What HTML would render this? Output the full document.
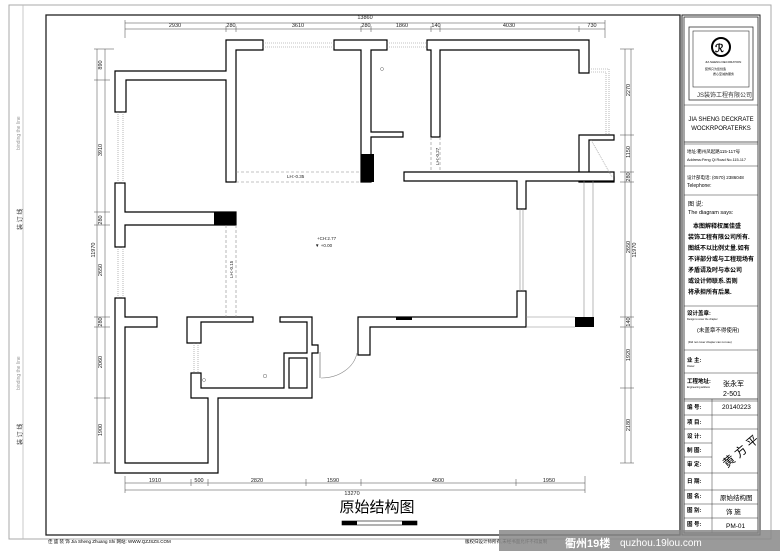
<!DOCTYPE html>
<html><head><meta charset="utf-8"><style>
html,body{margin:0;padding:0;background:#fff}
svg{display:block}
text{font-family:"Liberation Sans","Noto Sans CJK SC",sans-serif}
</style></head><body>
<svg width="780" height="551" viewBox="0 0 780 551" xmlns="http://www.w3.org/2000/svg">
<rect width="780" height="551" fill="#fff"/>
<rect x="9" y="5" width="762" height="534" fill="none" stroke="#aaa" stroke-width="1"/>
<line x1="23" y1="5" x2="23" y2="539" stroke="#bbb" stroke-width="0.8"/>
<text x="20" y="150" font-size="5" fill="#999" transform="rotate(-90 20 150)">binding the line</text>
<text x="20" y="390" font-size="5" fill="#999" transform="rotate(-90 20 390)">binding the line</text>
<text x="22" y="230" font-size="6" fill="#333" transform="rotate(-90 22 230)">装 订 线</text>
<text x="22" y="445" font-size="6" fill="#333" transform="rotate(-90 22 445)">装 订 线</text>
<rect x="46" y="15" width="634" height="520" fill="none" stroke="#222" stroke-width="1.3"/>
<!-- title block -->
<rect x="682" y="15" width="78" height="520" fill="none" stroke="#222" stroke-width="1"/>
<rect x="684" y="17" width="74" height="516" fill="none" stroke="#222" stroke-width="0.8"/>
<rect x="689" y="27" width="64" height="73" fill="none" stroke="#333" stroke-width="0.8"/>
<rect x="693" y="31" width="56" height="56" fill="none" stroke="#333" stroke-width="0.6"/>
<circle cx="721" cy="47" r="9" fill="none" stroke="#000" stroke-width="2"/>
<text x="715" y="52" font-size="11" font-weight="bold">ℛ</text>
<text x="705" y="63" font-size="3">JIA SHENG DECORATION</text>
<text x="705" y="70" font-size="3">装饰只为您创造</text>
<text x="713" y="75" font-size="3">质心至诚的服务</text>
<text x="697" y="97" font-size="6" fill="#333">JS装饰工程有限公司</text>
<line x1="684" y1="105" x2="758" y2="105" stroke="#333" stroke-width="0.6"/>
<text x="721" y="121" font-size="6" text-anchor="middle">JIA SHENG DECKRATE</text>
<text x="721" y="130" font-size="6" text-anchor="middle">WOCKRPORATERKS</text>
<line x1="684" y1="142" x2="758" y2="142" stroke="#333" stroke-width="0.8"/>
<line x1="684" y1="144" x2="758" y2="144" stroke="#333" stroke-width="0.5"/>
<text x="687" y="153" font-size="4.5">地址:衢州凤起路115-117号</text>
<text x="687" y="161" font-size="3.8">Address:Feng Qi Road No.115-117</text>
<line x1="684" y1="166" x2="758" y2="166" stroke="#333" stroke-width="0.5"/>
<text x="687" y="179" font-size="4.5">设计部电话: (0570) 2386048</text>
<text x="687" y="187" font-size="5">Telephone:</text>
<line x1="684" y1="195" x2="758" y2="195" stroke="#333" stroke-width="0.5"/>
<text x="688" y="206" font-size="6">图 说:</text>
<text x="688" y="214" font-size="5.5">The diagram says:</text>
<text x="693" y="228" font-size="6" font-weight="bold">本图解释权属佳盛</text>
<text x="688" y="239" font-size="6" font-weight="bold">装饰工程有限公司所有.</text>
<text x="688" y="250" font-size="6" font-weight="bold">图纸不以比例丈量.如有</text>
<text x="688" y="261" font-size="6" font-weight="bold">不详部分或与工程现场有</text>
<text x="688" y="272" font-size="6" font-weight="bold">矛盾请及时与本公司</text>
<text x="688" y="283" font-size="6" font-weight="bold">或设计师联系.否则</text>
<text x="688" y="294" font-size="6" font-weight="bold">将承担所有后果.</text>
<line x1="684" y1="306" x2="758" y2="306" stroke="#333" stroke-width="0.6"/>
<text x="687" y="315" font-size="5.5" font-weight="bold">设计盖章:</text>
<text x="687" y="320" font-size="2.5">Design to cover the chapter</text>
<text x="697" y="332" font-size="5.5">(未盖章不得使用)</text>
<text x="688" y="343" font-size="2.8">(Did not cover chapter can not use)</text>
<line x1="684" y1="350" x2="758" y2="350" stroke="#333" stroke-width="0.6"/>
<text x="687" y="362" font-size="5.5" font-weight="bold">业 主:</text>
<text x="687" y="367" font-size="2.5">Owner:</text>
<line x1="684" y1="373" x2="758" y2="373" stroke="#333" stroke-width="0.6"/>
<text x="687" y="383" font-size="5.5" font-weight="bold">工程地址:</text>
<text x="687" y="388" font-size="2.5">Engineering address</text>
<text x="723" y="386" font-size="7" font-family="Liberation Serif,Noto Serif CJK SC,serif">张永军</text>
<text x="723" y="396" font-size="7" font-family="Liberation Serif,serif">2-501</text>
<line x1="684" y1="399" x2="758" y2="399" stroke="#333" stroke-width="0.8"/>
<line x1="684" y1="401" x2="758" y2="401" stroke="#333" stroke-width="0.5"/>
<line x1="712" y1="399" x2="712" y2="533" stroke="#333" stroke-width="0.5"/>
<g font-size="5.5" font-weight="bold">
<text x="687" y="409">编 号:</text><text x="687" y="424">项 目:</text><text x="687" y="438">设 计:</text><text x="687" y="452">制 图:</text><text x="687" y="466">审 定:</text><text x="687" y="483">日 期:</text><text x="687" y="498">图 名:</text><text x="687" y="512">图 别:</text><text x="687" y="526">图 号:</text>
</g>
<text x="722" y="409" font-size="6.5" font-family="Liberation Serif,serif">20140223</text>
<text x="720" y="500" font-size="6.5" font-family="Liberation Serif,Noto Serif CJK SC,serif">原始结构图</text>
<text x="726" y="514" font-size="6.5" font-family="Liberation Serif,Noto Serif CJK SC,serif">饰 施</text>
<text x="726" y="528" font-size="6.5" font-family="Liberation Serif,serif">PM-01</text>
<g stroke="#333" stroke-width="0.5">
<line x1="684" y1="415" x2="758" y2="415"/><line x1="684" y1="429" x2="758" y2="429"/><line x1="684" y1="443" x2="712" y2="443"/><line x1="684" y1="457" x2="712" y2="457"/><line x1="684" y1="473" x2="758" y2="473"/><line x1="684" y1="490" x2="758" y2="490"/><line x1="684" y1="504" x2="758" y2="504"/><line x1="684" y1="518" x2="758" y2="518"/>
</g>
<text x="716" y="462" font-size="12" transform="rotate(-40 730 450)">黄 方 平</text>

<!-- dimensions -->
<g stroke="#444" stroke-width="0.5" fill="none">
<line x1="125" y1="23" x2="605" y2="23"/>
<line x1="125" y1="29" x2="605" y2="29"/>
<line x1="125" y1="20" x2="125" y2="38"/><line x1="226" y1="26" x2="226" y2="32"/><line x1="236" y1="26" x2="236" y2="32"/><line x1="361" y1="26" x2="361" y2="32"/><line x1="371" y1="26" x2="371" y2="32"/><line x1="431" y1="26" x2="431" y2="32"/><line x1="440" y1="26" x2="440" y2="32"/><line x1="579" y1="26" x2="579" y2="32"/><line x1="605" y1="20" x2="605" y2="38"/>
<line x1="97" y1="49" x2="97" y2="463"/><line x1="105" y1="49" x2="105" y2="463"/>
<line x1="94" y1="49" x2="114" y2="49"/><line x1="94" y1="80" x2="110" y2="80"/><line x1="94" y1="212" x2="110" y2="212"/><line x1="94" y1="225" x2="110" y2="225"/><line x1="94" y1="317" x2="110" y2="317"/><line x1="94" y1="327" x2="110" y2="327"/><line x1="94" y1="398" x2="110" y2="398"/><line x1="93" y1="463" x2="110" y2="463"/>
<line x1="625" y1="49" x2="625" y2="463"/><line x1="631" y1="49" x2="631" y2="463"/>
<line x1="620" y1="49" x2="634" y2="49"/><line x1="620" y1="135" x2="634" y2="135"/><line x1="620" y1="172" x2="634" y2="172"/><line x1="620" y1="182" x2="634" y2="182"/><line x1="620" y1="317" x2="634" y2="317"/><line x1="620" y1="327" x2="634" y2="327"/><line x1="620" y1="388" x2="634" y2="388"/><line x1="620" y1="463" x2="634" y2="463"/>
<line x1="125" y1="483" x2="585" y2="483"/><line x1="125" y1="490" x2="585" y2="490"/>
<line x1="125" y1="476" x2="125" y2="493"/><line x1="191" y1="479" x2="191" y2="486"/><line x1="208" y1="479" x2="208" y2="486"/><line x1="306" y1="479" x2="306" y2="486"/><line x1="361" y1="479" x2="361" y2="486"/><line x1="516" y1="479" x2="516" y2="486"/><line x1="585" y1="476" x2="585" y2="493"/>
</g>
<g font-size="5.5" fill="#222">
<text x="365" y="19" text-anchor="middle">13860</text>
<text x="175" y="27" text-anchor="middle">2930</text><text x="231" y="27" text-anchor="middle">280</text><text x="298" y="27" text-anchor="middle">3610</text><text x="366" y="27" text-anchor="middle">280</text><text x="402" y="27" text-anchor="middle">1860</text><text x="436" y="27" text-anchor="middle">140</text><text x="509" y="27" text-anchor="middle">4030</text><text x="592" y="27" text-anchor="middle">730</text>
<text x="155" y="482" text-anchor="middle">1910</text><text x="199" y="482" text-anchor="middle">500</text><text x="257" y="482" text-anchor="middle">2820</text><text x="333" y="482" text-anchor="middle">1590</text><text x="438" y="482" text-anchor="middle">4500</text><text x="549" y="482" text-anchor="middle">1950</text>
<text x="352" y="495" text-anchor="middle">13270</text>
<g transform="rotate(-90)">
<text x="-65" y="102" text-anchor="middle">890</text><text x="-150" y="102" text-anchor="middle">3910</text><text x="-220" y="102" text-anchor="middle">280</text><text x="-270" y="102" text-anchor="middle">2650</text><text x="-322" y="102" text-anchor="middle">280</text><text x="-362" y="102" text-anchor="middle">2060</text><text x="-430" y="102" text-anchor="middle">1900</text>
<text x="-250" y="95" text-anchor="middle">11970</text>
<text x="-90" y="630" text-anchor="middle">2270</text><text x="-152" y="630" text-anchor="middle">1150</text><text x="-177" y="630" text-anchor="middle">280</text><text x="-247" y="630" text-anchor="middle">2650</text><text x="-322" y="630" text-anchor="middle">140</text><text x="-355" y="630" text-anchor="middle">1920</text><text x="-425" y="630" text-anchor="middle">2180</text>
<text x="-250" y="636" text-anchor="middle">11970</text>
</g>
</g>

<!-- walls -->
<g fill="#fff" stroke="#000" stroke-width="1.2">
<polygon points="226,40 263,40 263,50 236,50 236,182 226,182 226,80 126,80 126,112 115,112 115,71 226,71"/>
<polygon points="334,40 387,40 387,50 371,50 371,132 403,132 403,137 371,137 371,182 361,182 361,50 334,50"/>
<polygon points="427,40 589,40 589,73 579,73 579,50 440,50 440,137 431,137 431,50 427,50"/>
<polygon points="579,135 614,135 614,140 589,140 589,177 614,177 614,182 579,182"/>
<polygon points="404,172 614,172 614,181 526,181 526,209 517,209 517,181 404,181"/>
<polygon points="115,183 125,183 125,212 236,212 236,225 125,225 125,247 115,247"/>
<polygon points="115,298 125,298 125,317 157,317 157,327 125,327 125,463 208,463 208,398 191,398 191,373 201,373 201,388 284,388 284,353 307,353 307,322 280,322 280,317 312,317 312,345 318,345 318,353 312,353 312,398 218,398 218,473 115,473"/>
<polygon points="187,317 253,317 253,322 201,322 201,343 187,343"/>
<rect x="289" y="358" width="18" height="30"/>
<polygon points="358,317 517,317 517,291 526,291 526,327 370,327 370,355 358,355"/>
</g>
<rect x="361" y="154" width="13" height="28" fill="#000"/>
<rect x="214" y="212" width="22" height="13" fill="#000"/>
<rect x="575" y="317" width="19" height="10" fill="#000"/>
<rect x="396" y="317" width="16" height="3" fill="#000"/>
<g stroke="#888" stroke-width="0.6" fill="none">
<line x1="263" y1="43" x2="334" y2="43" stroke-dasharray="1,1"/><line x1="263" y1="47" x2="334" y2="47" stroke-dasharray="1,1"/>
<line x1="387" y1="43" x2="427" y2="43" stroke-dasharray="1,1"/><line x1="387" y1="47" x2="427" y2="47" stroke-dasharray="1,1"/>
<line x1="118" y1="112" x2="118" y2="183" stroke-dasharray="1,1"/><line x1="123" y1="112" x2="123" y2="183" stroke-dasharray="1,1"/>
<line x1="118" y1="247" x2="118" y2="298" stroke-dasharray="1,1"/><line x1="123" y1="247" x2="123" y2="298" stroke-dasharray="1,1"/>
<line x1="194" y1="343" x2="194" y2="373" stroke-dasharray="1,1"/><line x1="198" y1="343" x2="198" y2="373" stroke-dasharray="1,1"/>
<line x1="520" y1="209" x2="520" y2="291"/><line x1="523" y1="209" x2="523" y2="291"/>
<polyline points="589,69 609,69 609,135" stroke-dasharray="1,1"/><polyline points="589,72 606,72 606,135" stroke-dasharray="1,1"/>
<line x1="236" y1="172" x2="361" y2="172" stroke-dasharray="3,2"/><line x1="236" y1="182" x2="361" y2="182" stroke-dasharray="3,2"/>
<line x1="226" y1="225" x2="226" y2="317" stroke-dasharray="3,2"/><line x1="236" y1="225" x2="236" y2="317" stroke-dasharray="3,2"/>
<line x1="431" y1="137" x2="431" y2="172" stroke-dasharray="3,2"/><line x1="440" y1="137" x2="440" y2="172" stroke-dasharray="3,2"/>
<line x1="526" y1="317" x2="575" y2="317"/><line x1="526" y1="327" x2="575" y2="327"/>
<line x1="584" y1="181" x2="584" y2="317"/><line x1="593" y1="181" x2="593" y2="317"/>
<path d="M321,378 A36,30 0 0 0 357,353"/>
<line x1="320" y1="352" x2="320" y2="378" stroke="#555"/>
<line x1="591" y1="140" x2="612" y2="177" stroke-dasharray="1,1"/>
</g>
<g font-size="4.5" fill="#222">
<text x="287" y="178">LH:-0.35</text>
<text x="317" y="240">+CH:2.77</text>
<text x="315" y="247">▼ +0.00</text>
<text x="233" y="278" transform="rotate(-90 233 278)">LH:-0.15</text>
<text x="439" y="165" transform="rotate(-90 439 165)">LH:-0.27</text>
</g>
<circle cx="382" cy="69" r="1.5" fill="none" stroke="#666" stroke-width="0.5"/>
<circle cx="265" cy="376" r="1.8" fill="none" stroke="#666" stroke-width="0.5"/>
<circle cx="204" cy="380" r="1.5" fill="none" stroke="#666" stroke-width="0.5"/>

<text x="377" y="512" font-size="15" text-anchor="middle" font-family="Liberation Serif,Noto Serif CJK SC,serif">原始结构图</text>
<rect x="342" y="521" width="75" height="4" fill="#fff" stroke="#000" stroke-width="0.6"/>
<rect x="342" y="521" width="15" height="4" fill="#000"/><rect x="402" y="521" width="15" height="4" fill="#000"/>
<text x="48" y="543" font-size="4.5">佳 盛 装 饰  Jia Sheng Zhuang Shi    网站: WWW.QZJSZS.COM</text>
<text x="465" y="543" font-size="4.5">版权归设计师所有,未经书面允许不得复制</text>
<rect x="499" y="530" width="281" height="21" fill="#888" opacity="0.85"/>
<text x="565" y="547" font-size="11" fill="#fff" font-weight="bold">衢州19楼</text>
<text x="620" y="546" font-size="10" fill="#fff">quzhou.19lou.com</text>
</svg>
</body></html>
